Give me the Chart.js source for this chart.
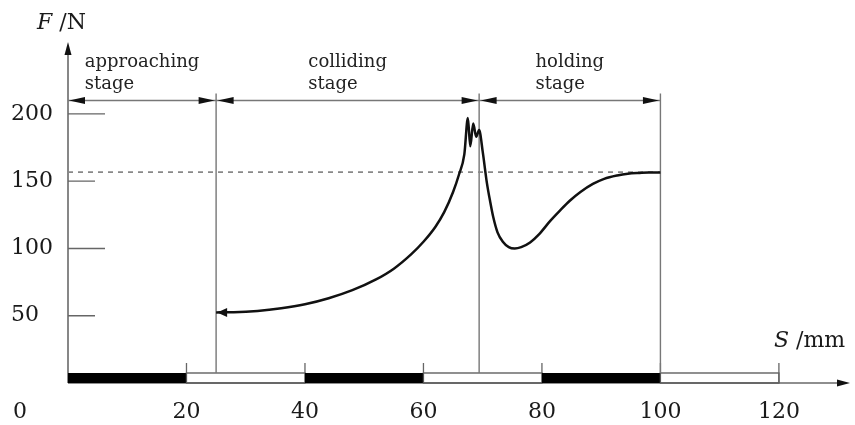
<!DOCTYPE html>
<html>
<head>
<meta charset="utf-8">
<script src="https://cdn.jsdelivr.net/npm/chart.js@4.4.0/dist/chart.umd.min.js"></script>
<style>
  html, body { margin: 0; padding: 0; background: #fff; }
  #wrap { width: 855px; height: 425px; }
</style>
</head>
<body>
<div id="wrap"><canvas id="forceChart"></canvas></div>
<script>
// Force vs. displacement
const curveS = [25, 28, 32, 36, 40, 44, 48, 52, 55, 58, 60, 62, 63.5, 65, 66, 66.9,
  67.5, 67.9, 68.4, 68.9, 69.4, 70, 70.7, 71.3, 71.8, 72.5, 73.4, 74.4, 75.4, 76.5, 78, 79.5, 81.4, 83, 84.7, 86.5,
  88.6, 90.5, 92.7, 94.5, 96.5, 98, 100];
const curveF = [52.5, 52.6, 53.5, 55.5, 58.5, 63, 69, 77, 85, 96, 105, 116, 127, 142, 155, 170,
  197, 176, 193, 183, 188, 172, 149, 134, 123, 112, 105, 101, 100, 101, 104.5, 110.5, 120.5, 128, 135.5, 142,
  148, 151.8, 154.3, 155.6, 156.2, 156.5, 156.5];

const xTicks = [0, 20, 40, 60, 80, 100, 120];
const yTicks = [50, 100, 150, 200];
const stageBounds = [0, 25, 69.4, 100];
const stageNames = [["approaching", "stage"], ["colliding", "stage"], ["holding", "stage"]];
const holdForce = 156.8;
const dimLevel = 210;

const SERIF = '"DejaVu Serif", serif';

function arrowHead(ctx, x, y, dir, len, half) {
  // dir: 'left' | 'right' | 'up'
  ctx.beginPath();
  if (dir === 'left') {
    ctx.moveTo(x, y); ctx.lineTo(x + len, y - half); ctx.lineTo(x + len, y + half);
  } else if (dir === 'right') {
    ctx.moveTo(x, y); ctx.lineTo(x - len, y - half); ctx.lineTo(x - len, y + half);
  } else {
    ctx.moveTo(x, y); ctx.lineTo(x - half, y + len); ctx.lineTo(x + half, y + len);
  }
  ctx.closePath();
  ctx.fill();
}

const figurePlugin = {
  id: 'figure',
  beforeDatasetsDraw(chart) {
    const ctx = chart.ctx;
    const area = chart.chartArea;
    const xs = chart.scales.x, ys = chart.scales.y;
    const px = v => xs.getPixelForValue(v);
    const py = v => ys.getPixelForValue(v);
    const x0 = px(0), y0 = py(0);
    const barH = 10;
    const barTop = y0 - barH;

    ctx.save();
    ctx.strokeStyle = '#6a6a6a';
    ctx.fillStyle = '#111';
    ctx.lineWidth = 1.6;

    // axes
    ctx.beginPath();
    ctx.moveTo(x0, y0); ctx.lineTo(x0, area.top + 10);
    ctx.moveTo(x0, y0); ctx.lineTo(area.right - 10, y0);
    ctx.stroke();
    arrowHead(ctx, x0, area.top, 'up', 13, 3.5);
    arrowHead(ctx, area.right, y0, 'right', 13, 3.5);

    // striped track on the S axis
    for (let i = 0; i < xTicks.length - 1; i++) {
      const a = px(xTicks[i]), b = px(xTicks[i + 1]);
      if (i % 2 === 0) {
        ctx.fillStyle = '#000';
        ctx.fillRect(a, barTop, b - a, barH);
      } else {
        ctx.strokeStyle = '#555';
        ctx.lineWidth = 1.3;
        ctx.strokeRect(a, barTop, b - a, barH);
      }
    }

    // x tick marks
    ctx.strokeStyle = '#666';
    ctx.lineWidth = 1.3;
    ctx.beginPath();
    xTicks.forEach((v, i) => {
      if (v === 0) return;
      ctx.moveTo(px(v), barTop - 10);
      ctx.lineTo(px(v), i === xTicks.length - 1 ? y0 : barTop);
    });
    ctx.stroke();

    // y tick marks, alternating lengths
    ctx.beginPath();
    yTicks.forEach((v, i) => {
      const len = i % 2 ? 37 : 27;
      ctx.moveTo(x0, py(v)); ctx.lineTo(x0 + len, py(v));
    });
    ctx.stroke();

    // tick labels
    ctx.fillStyle = '#1a1a1a';
    ctx.font = '22px ' + SERIF;
    ctx.textBaseline = 'middle';
    ctx.textAlign = 'left';
    yTicks.forEach(v => ctx.fillText(String(v), 11, py(v)));
    xTicks.forEach(v => {
      if (v === 0) { ctx.textAlign = 'left'; ctx.fillText('0', 13, 412); return; }
      ctx.textAlign = 'center';
      ctx.fillText(String(v), px(v), 412);
    });

    // stage boundaries
    const dimY = py(dimLevel);
    ctx.strokeStyle = '#777';
    ctx.lineWidth = 1.4;
    ctx.beginPath();
    stageBounds.slice(1).forEach(v => {
      ctx.moveTo(px(v), dimY - 7); ctx.lineTo(px(v), barTop);
    });
    ctx.moveTo(x0, dimY); ctx.lineTo(px(stageBounds[stageBounds.length - 1]), dimY);
    ctx.stroke();

    ctx.fillStyle = '#111';
    for (let i = 0; i < stageBounds.length - 1; i++) {
      const a = px(stageBounds[i]) + (i === 0 ? 1 : 1.5);
      const b = px(stageBounds[i + 1]) - 1.5;
      arrowHead(ctx, a, dimY, 'left', 16, 3.5);
      arrowHead(ctx, b, dimY, 'right', 16, 3.5);
    }

    // stage labels
    ctx.fillStyle = '#222';
    ctx.font = '18px ' + SERIF;
    ctx.textAlign = 'left';
    ctx.textBaseline = 'middle';
    stageNames.forEach((lines, i) => {
      const mid = px((stageBounds[i] + stageBounds[i + 1]) / 2);
      const w = ctx.measureText(lines[0]).width;
      const left = mid - w / 2;
      ctx.fillText(lines[0], left, 62);
      ctx.fillText(lines[1], left, 84);
    });

    // axis titles
    ctx.fillStyle = '#1a1a1a';
    ctx.font = 'italic 22px ' + SERIF;
    ctx.fillText('F', 37, 23);
    let w = ctx.measureText('F').width;
    ctx.font = '22px ' + SERIF;
    ctx.fillText(' /N', 37 + w, 23);
    ctx.font = 'italic 22px ' + SERIF;
    ctx.fillText('S', 774, 341);
    w = ctx.measureText('S').width;
    ctx.font = '22px ' + SERIF;
    ctx.fillText(' /mm', 774 + w, 341);

    ctx.restore();
  },
  afterDatasetsDraw(chart) {
    const ctx = chart.ctx;
    const xs = chart.scales.x, ys = chart.scales.y;
    ctx.save();
    ctx.fillStyle = '#111';
    arrowHead(ctx, xs.getPixelForValue(curveS[0]) + 1, ys.getPixelForValue(curveF[0]), 'left', 10, 4.5);
    ctx.restore();
  }
};

document.addEventListener('DOMContentLoaded', function () {
  const ctx = document.getElementById('forceChart').getContext('2d');
  new Chart(ctx, {
    type: 'line',
    data: {
      datasets: [
        {
          label: 'F',
          data: curveS.map((s, i) => ({ x: s, y: curveF[i] })),
          borderColor: '#111',
          borderWidth: 2.5,
          pointRadius: 0,
          cubicInterpolationMode: 'monotone',
          fill: false,
        },
        {
          label: 'holding force',
          data: [{ x: 0, y: holdForce }, { x: 100, y: holdForce }],
          borderColor: '#888',
          borderWidth: 1.6,
          borderDash: [5, 5],
          pointRadius: 0,
          fill: false,
        },
      ],
    },
    options: {
      responsive: true,
      maintainAspectRatio: false,
      animation: false,
      layout: { padding: { left: 68, top: 42, right: 5, bottom: 42 } },
      plugins: {
        legend: { display: false },
        tooltip: { enabled: false },
      },
      scales: {
        x: { type: 'linear', min: 0, max: 132, display: false },
        y: { min: 0, max: 253.5, display: false },
      },
    },
    plugins: [figurePlugin],
  });
});
</script>
</body>
</html>
